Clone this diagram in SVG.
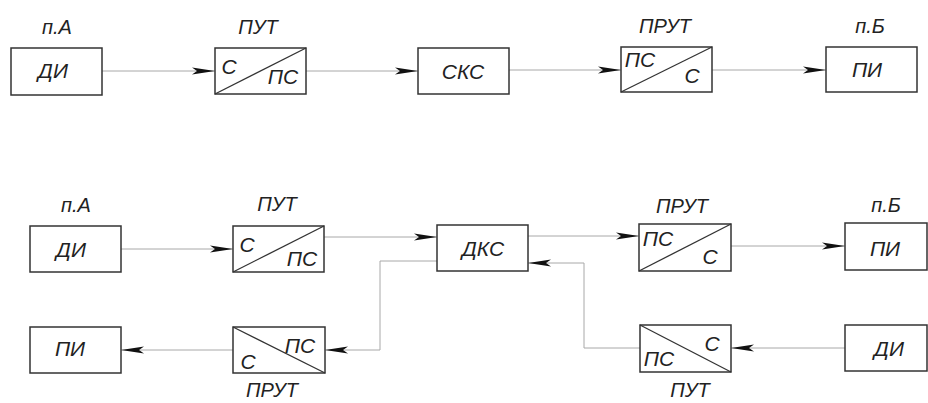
<svg xmlns="http://www.w3.org/2000/svg" width="928" height="403" viewBox="0 0 928 403">
  <defs>
    <style>
      .box { fill: #ffffff; stroke: #333333; stroke-width: 1.5; }
      .diag { stroke: #333333; stroke-width: 1.3; fill: none; }
      .wire { fill: none; stroke: #a8a8a8; stroke-width: 1; marker-end: url(#arrow); }
      .txt { font-family: "Liberation Sans", Arial, sans-serif; font-style: italic; font-size: 21px; fill: #222222; text-anchor: middle; }
      .lbl { font-family: "Liberation Sans", Arial, sans-serif; font-style: italic; font-size: 20px; fill: #222222; text-anchor: middle; }
    </style>
    <marker id="arrow" viewBox="-24 -4 25 8" refX="0" refY="0" markerWidth="25" markerHeight="8" markerUnits="userSpaceOnUse" orient="auto">
      <path d="M0,0 L-23,-3.5 L-18,0 L-23,3.5 Z" fill="#111111"/>
    </marker>
  </defs>

  <!-- connectors -->
  <g id="connectors">
    <!-- upper scheme -->
    <path class="wire" d="M102,71 H215"/>
    <path class="wire" d="M306,71 H418"/>
    <path class="wire" d="M509,70 H621"/>
    <path class="wire" d="M712,70 H826"/>
    <!-- lower scheme -->
    <path class="wire" d="M121,249 H233"/>
    <path class="wire" d="M324,237 H437"/>
    <path class="wire" d="M528,236 H639"/>
    <path class="wire" d="M731,246 H845"/>
    <path class="wire" d="M437,261 H380 V350 H325"/>
    <path class="wire" d="M233,350 H121"/>
    <path class="wire" d="M845,348 H731"/>
    <path class="wire" d="M640,348 H584 V263 H528"/>
  </g>

  <!-- upper scheme: simplex channel -->
  <g id="src-a1">
    <text class="lbl" x="57" y="34">п.А</text>
    <rect class="box" x="11" y="48" width="91" height="47"/>
    <text class="txt" x="53" y="78">ДИ</text>
  </g>
  <g id="put1">
    <text class="lbl" x="258" y="34">ПУТ</text>
    <rect class="box" x="215" y="48" width="91" height="46"/>
    <line class="diag" x1="215" y1="94" x2="306" y2="48"/>
    <text class="txt" x="229" y="74">С</text>
    <text class="txt" x="283" y="84">ПС</text>
  </g>
  <g id="sks">
    <rect class="box" x="418" y="48" width="91" height="46"/>
    <text class="txt" x="463" y="79">СКС</text>
  </g>
  <g id="prut1">
    <text class="lbl" x="665" y="33">ПРУТ</text>
    <rect class="box" x="621" y="47" width="91" height="45"/>
    <line class="diag" x1="621" y1="92" x2="712" y2="47"/>
    <text class="txt" x="640" y="67">ПС</text>
    <text class="txt" x="692" y="83">С</text>
  </g>
  <g id="dst-b1">
    <text class="lbl" x="870" y="33">п.Б</text>
    <rect class="box" x="826" y="47" width="91" height="45"/>
    <text class="txt" x="867" y="77">ПИ</text>
  </g>

  <!-- lower scheme: duplex channel -->
  <g id="src-a2">
    <text class="lbl" x="76" y="212">п.А</text>
    <rect class="box" x="30" y="226" width="91" height="46"/>
    <text class="txt" x="71" y="257">ДИ</text>
  </g>
  <g id="put2">
    <text class="lbl" x="277" y="211">ПУТ</text>
    <rect class="box" x="233" y="226" width="91" height="46"/>
    <line class="diag" x1="233" y1="272" x2="324" y2="226"/>
    <text class="txt" x="247" y="252">С</text>
    <text class="txt" x="302" y="266">ПС</text>
  </g>
  <g id="dks">
    <rect class="box" x="437" y="225" width="91" height="46"/>
    <text class="txt" x="483" y="256">ДКС</text>
  </g>
  <g id="prut2">
    <text class="lbl" x="682" y="213">ПРУТ</text>
    <rect class="box" x="639" y="224" width="92" height="47"/>
    <line class="diag" x1="639" y1="271" x2="731" y2="224"/>
    <text class="txt" x="658" y="246">ПС</text>
    <text class="txt" x="710" y="264">С</text>
  </g>
  <g id="dst-b2">
    <text class="lbl" x="886" y="212">п.Б</text>
    <rect class="box" x="845" y="223" width="82" height="47"/>
    <text class="txt" x="885" y="256">ПИ</text>
  </g>
  <g id="dst-a3">
    <rect class="box" x="30" y="327" width="91" height="46"/>
    <text class="txt" x="70" y="356">ПИ</text>
  </g>
  <g id="prut3">
    <rect class="box" x="233" y="327" width="92" height="46"/>
    <line class="diag" x1="233" y1="327" x2="325" y2="373"/>
    <text class="txt" x="300" y="353">ПС</text>
    <text class="txt" x="248" y="369">С</text>
    <text class="lbl" x="272" y="397">ПРУТ</text>
  </g>
  <g id="put3">
    <rect class="box" x="640" y="325" width="91" height="47"/>
    <line class="diag" x1="640" y1="325" x2="731" y2="372"/>
    <text class="txt" x="712" y="351">С</text>
    <text class="txt" x="659" y="366">ПС</text>
    <text class="lbl" x="690" y="397">ПУТ</text>
  </g>
  <g id="src-b3">
    <rect class="box" x="845" y="325" width="82" height="46"/>
    <text class="txt" x="889" y="356">ДИ</text>
  </g>
</svg>
